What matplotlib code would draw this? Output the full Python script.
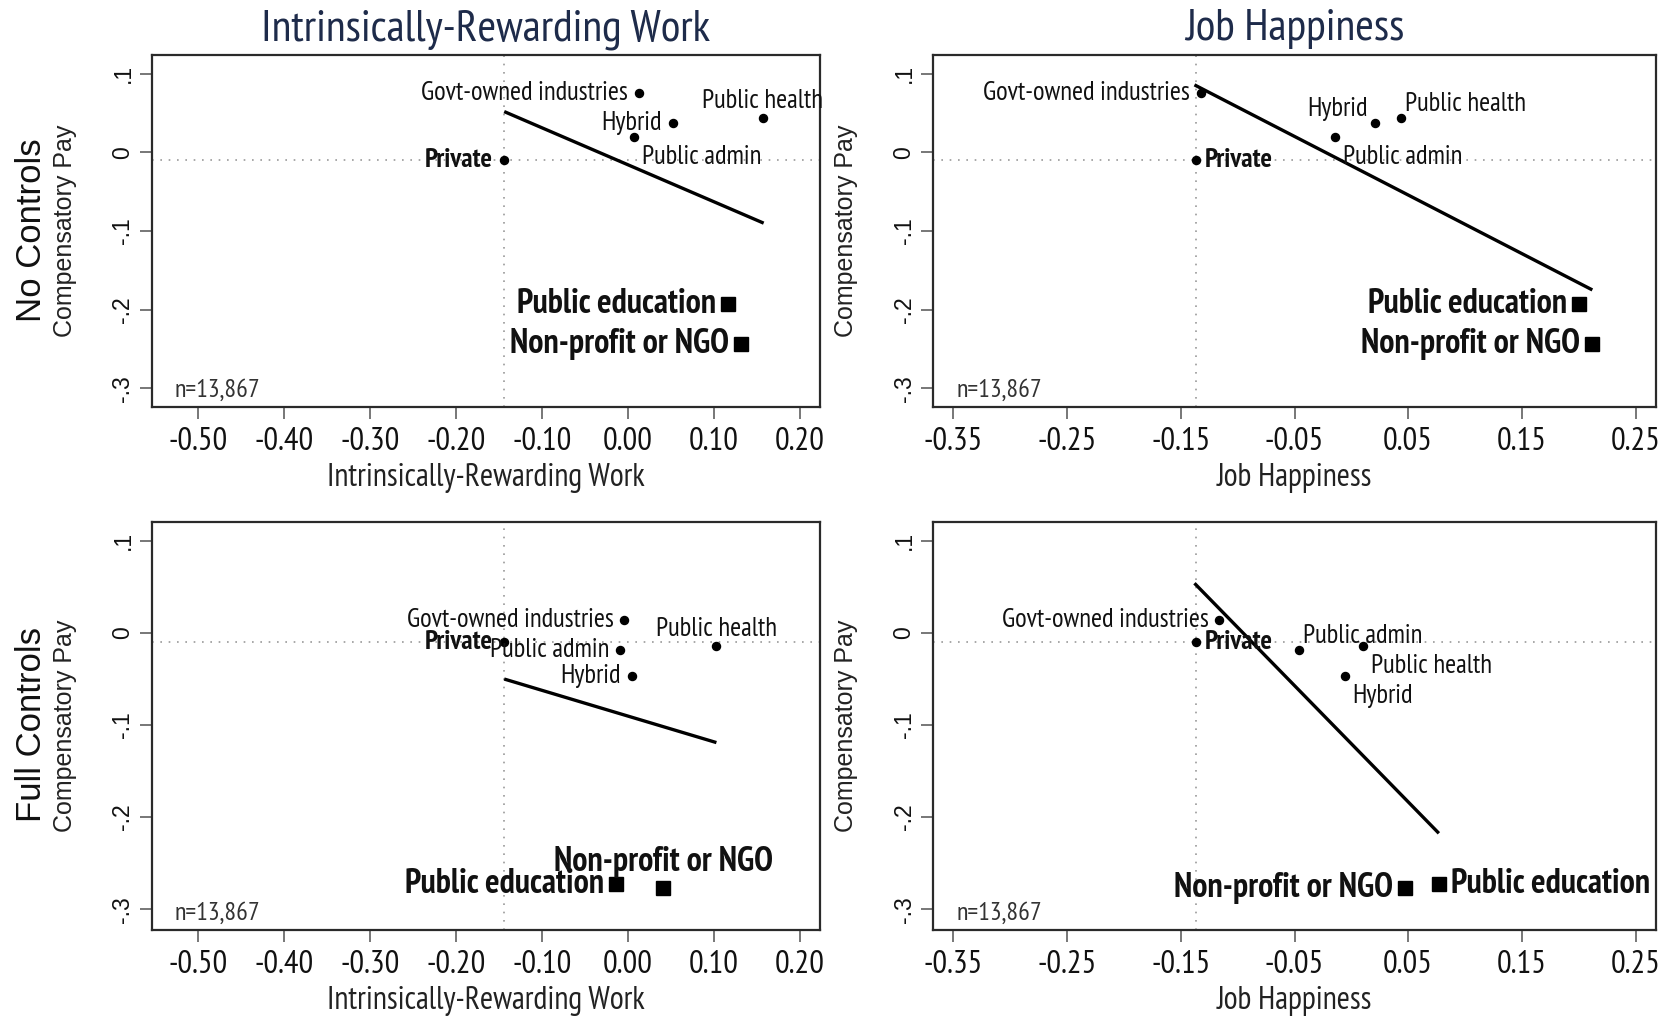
import matplotlib
matplotlib.use('Agg')
import matplotlib.pyplot as plt
from matplotlib import font_manager

# ---------------- data ----------------
categories = ["Private", "Govt-owned industries", "Public admin", "Hybrid",
              "Public health", "Public education", "Non-profit or NGO"]
is_big = [False, False, False, False, False, True, True]
is_bold = [True, False, False, False, False, True, True]

# compensatory pay (y) per row
pay_nc = [-0.010, 0.076, 0.019, 0.037, 0.044, -0.193, -0.244]
pay_fc = [-0.010, 0.014, -0.019, -0.047, -0.014, -0.273, -0.277]

# x values per panel
irw_nc = [-0.144, 0.013, 0.007, 0.052, 0.157, 0.117, 0.132]
jh_nc = [-0.137, -0.132, -0.014, 0.021, 0.044, 0.200, 0.212]
irw_fc = [-0.144, -0.004, -0.009, 0.005, 0.103, -0.014, 0.041]
jh_fc = [-0.137, -0.116, -0.046, -0.006, 0.010, 0.077, 0.047]

# fitted lines (endpoints)
fit_irw_nc_x = [-0.144, 0.158]
fit_irw_nc_y = [0.052, -0.090]
fit_jh_nc_x = [-0.138, 0.212]
fit_jh_nc_y = [0.086, -0.175]
fit_irw_fc_x = [-0.144, 0.103]
fit_irw_fc_y = [-0.050, -0.119]
fit_jh_fc_x = [-0.138, 0.077]
fit_jh_fc_y = [0.054, -0.2175]

irw_ticks = [-0.50, -0.40, -0.30, -0.20, -0.10, 0.00, 0.10, 0.20]
jh_ticks = [-0.35, -0.25, -0.15, -0.05, 0.05, 0.15, 0.25]
y_ticks = [0.1, 0.0, -0.1, -0.2, -0.3]
y_ticklabels = [".1", "0", "-.1", "-.2", "-.3"]

col_titles = ["Intrinsically-Rewarding Work", "Job Happiness"]
row_titles = ["No Controls", "Full Controls"]
n_text = "n=13,867"

# label placement codes (style)
pos_irw_nc = ['L', 'L', 'DR', 'L', 'U', 'L', 'L']
pos_jh_nc = ['R', 'L', 'DR', 'UL', 'UR', 'L', 'L']
pos_irw_fc = ['L', 'L', 'L', 'L', 'U', 'L', 'U']
pos_jh_fc = ['R', 'L', 'UR', 'DR', 'DR', 'R', 'L']

# ---------------- styling ----------------
def _w(v):
    if isinstance(v, str):
        return {'normal': 400, 'regular': 400, 'bold': 700}.get(v.lower(), 400)
    return int(v)

weights = {}
for f in font_manager.fontManager.ttflist:
    if f.style == 'normal':
        weights.setdefault(f.name, set()).add(_w(f.weight))

narrow_pref = ['Liberation Sans Narrow', 'Arial Narrow', 'Archivo Narrow', 'PT Sans Narrow',
               'Roboto Condensed', 'Pragati Narrow', 'IBM Plex Sans Condensed',
               'Encode Sans Condensed', 'Open Sans Condensed']
chosen = [f for f in narrow_pref if f in weights and 400 in weights[f] and 700 in weights[f]]
NARROW = chosen[:1] + ['Liberation Sans', 'DejaVu Sans']
REG = ['Liberation Sans', 'DejaVu Sans']
plt.rcParams['font.family'] = NARROW

W, H = 1673, 1016
fig = plt.figure(figsize=(W / 100, H / 100), dpi=100)
PX = 0.72  # points per pixel

def rect(l, r, t, b):
    return [l / W, 1 - b / H, (r - l) / W, (b - t) / H]

panels = [
    dict(rect=rect(152, 819.5, 55, 407), x=irw_nc, y=pay_nc, fx=fit_irw_nc_x, fy=fit_irw_nc_y,
         ticks=irw_ticks, xlim=(-0.554, 0.223), ylim=(-0.324, 0.124), pos=pos_irw_nc,
         xlabel=col_titles[0], title=col_titles[0]),
    dict(rect=rect(933, 1656, 55, 407), x=jh_nc, y=pay_nc, fx=fit_jh_nc_x, fy=fit_jh_nc_y,
         ticks=jh_ticks, xlim=(-0.368, 0.268), ylim=(-0.324, 0.124), pos=pos_jh_nc,
         xlabel=col_titles[1], title=col_titles[1]),
    dict(rect=rect(152, 819.5, 522, 930), x=irw_fc, y=pay_fc, fx=fit_irw_fc_x, fy=fit_irw_fc_y,
         ticks=irw_ticks, xlim=(-0.554, 0.223), ylim=(-0.3225, 0.1205), pos=pos_irw_fc,
         xlabel=col_titles[0], title=None),
    dict(rect=rect(933, 1656, 522, 930), x=jh_fc, y=pay_fc, fx=fit_jh_fc_x, fy=fit_jh_fc_y,
         ticks=jh_ticks, xlim=(-0.368, 0.268), ylim=(-0.3225, 0.1205), pos=pos_jh_fc,
         xlabel=col_titles[1], title=None),
]

small_off = {'L': (-11, 0, 'right'), 'R': (9, 0, 'left'), 'U': (0, 17, 'center'),
             'UR': (4, 14, 'left'), 'UL': (-7, 14, 'right'), 'DR': (8, -20, 'left')}
big_off = {'L': (-12, 0, 'right'), 'R': (12, 0, 'left'), 'U': (0, 26, 'center')}

for p in panels:
    ax = fig.add_axes(p['rect'])
    ax.set_xlim(*p['xlim'])
    ax.set_ylim(*p['ylim'])
    for s in ax.spines.values():
        s.set_color('#2a2a2a')
        s.set_linewidth(1.6)
    # reference lines at Private
    ax.axvline(p['x'][0], color='#9a9a9a', linestyle=(0, (1, 4)), linewidth=1.2, zorder=1)
    ax.axhline(p['y'][0], color='#9a9a9a', linestyle=(0, (1, 4)), linewidth=1.2, zorder=1)
    # fit line
    ax.plot(p['fx'], p['fy'], color='black', linewidth=2.4, zorder=2, solid_capstyle='butt')
    # points
    for xi, yi, big, bold, lab, pos in zip(p['x'], p['y'], is_big, is_bold, categories, p['pos']):
        if big:
            ax.plot([xi], [yi], marker='s', markersize=10.5, color='black', linestyle='none', zorder=3)
            dx, dy, ha = big_off[pos]
            size = 24.5
        else:
            ax.plot([xi], [yi], marker='o', markersize=5.8, color='black', linestyle='none', zorder=3)
            dx, dy, ha = small_off[pos]
            size = 19.5 if bold else 19.2
        ax.annotate(lab, (xi, yi), xytext=(dx * PX, dy * PX), textcoords='offset points',
                    ha=ha, va='center', fontsize=size,
                    fontweight='bold' if bold else 'normal', color='#111111',
                    annotation_clip=False, zorder=4)
    # ticks
    ax.set_xticks(p['ticks'])
    ax.set_xticklabels(['%.2f' % t for t in p['ticks']], fontsize=23.5, color='#111111')
    ax.set_yticks(y_ticks)
    ax.set_yticklabels(y_ticklabels, rotation=90, va='center', fontsize=16.5,
                       family=REG, color='#111111')
    ax.tick_params(axis='both', direction='out', length=8.6, width=1.4, color='#777777')
    ax.tick_params(axis='x', pad=6)
    ax.tick_params(axis='y', pad=4)
    # labels
    hpx = p['rect'][3] * H
    wpx = p['rect'][2] * W
    ax.set_xlabel(p['xlabel'], fontsize=23, color='#222222')
    ax.xaxis.set_label_coords(0.5, -56 / hpx)
    ax.set_ylabel("Compensatory Pay", fontsize=18, family=REG, color='#222222')
    ax.yaxis.set_label_coords(-75 / wpx, 0.5)
    ax.text(23 / wpx, 10 / hpx, n_text, transform=ax.transAxes, fontsize=18.7,
            ha='left', va='baseline', color='#333333')
    if p['title']:
        ax.set_title(p['title'], fontsize=32.5, color='#1e2b4a', pad=10.5)

fig.text(32 / W, 1 - 230 / H, row_titles[0], rotation=90, fontsize=25, family=REG,
         ha='center', va='center', color='#111111')
fig.text(32 / W, 1 - 725 / H, row_titles[1], rotation=90, fontsize=25, family=REG,
         ha='center', va='center', color='#111111')

fig.savefig('out.png', dpi=100, facecolor='white')
